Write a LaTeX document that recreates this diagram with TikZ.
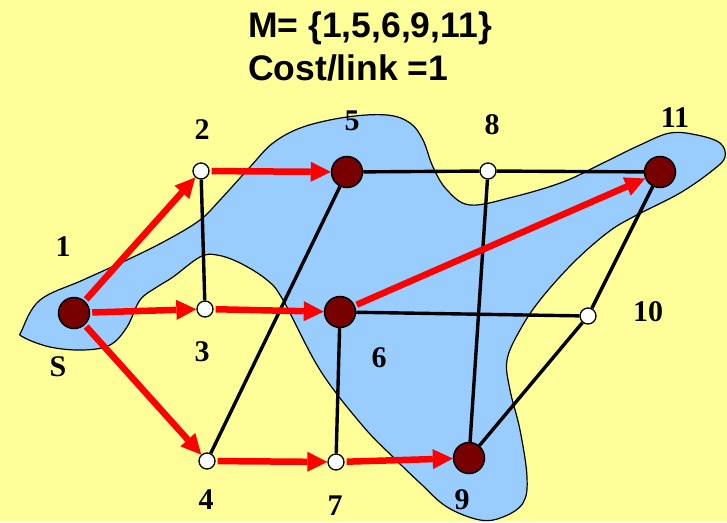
\documentclass[tikz,border=0pt]{standalone}
\usepackage{fontspec}
\setmainfont{Liberation Serif}
\newfontfamily\titlefont{Liberation Sans}
\usetikzlibrary{arrows.meta}

\definecolor{bgyellow}{RGB}{255,255,153}
\definecolor{regionblue}{RGB}{153,204,255}
\definecolor{memberred}{RGB}{119,0,0}

\begin{document}
\begin{tikzpicture}[x=1pt,y=-1pt,>=Latex,
  member/.style={circle,draw,line width=1.5pt,fill=memberred,minimum size=31pt,inner sep=0pt},
  relay/.style={circle,draw,line width=1.3pt,fill=white,minimum size=16pt,inner sep=0pt},
  link/.style={line width=3.4pt},
  tree/.style={red,line width=6.5pt,shorten <=2pt,-{Triangle[length=20pt,width=20pt,line width=0pt]}},
  lbl/.style={font=\fontsize{30}{30}\selectfont\bfseries,inner sep=0pt},
  head/.style={anchor=base west,inner sep=0pt,font=\titlefont\bfseries\fontsize{35.5}{36}\selectfont}]
  \useasboundingbox (0,0) rectangle (727,522);
  \fill[bgyellow] (0,0) rectangle (727,522);
  % Title
  \node[head] (mset) at (248,37) {M= \{1,5,6,9,11\}};
  \node[head] (cost) at (248,80) {Cost/link =1};
  % Multicast region
  \draw[line width=1.2pt,fill=regionblue] plot[smooth cycle,tension=0.6] coordinates {
    (22,330) (40,300) (83,280) (127,260) (167,240) (200,220) (220,200)
    (250,167) (273,143) (303,127) (347,117) (387,115) (410,123) (423,140)
    (433,167) (447,190) (470,205) (513,197) (563,182) (603,163) (640,145)
    (670,133) (697,135) (720,143) (725,157) (713,170) (680,193) (633,217)
    (607,233) (573,263) (540,300) (520,330) (507,360) (510,390) (520,430)
    (527,477) (523,503) (503,517) (480,520) (447,507) (420,483) (393,457)
    (362,425) (320,370) (283,300) (267,280) (240,263) (217,255) (200,257)
    (173,277) (157,287) (140,300) (127,327) (110,345) (83,350) (50,347) (23,337)};
  % Routers
  \node[member] (s) at (74,313) {};
  \node[relay] (n2) at (201,171) {};
  \node[relay] (n3) at (205,309) {};
  \node[relay] (n4) at (207,461) {};
  \node[member] (n5) at (347,172) {};
  \node[member] (n6) at (340,312) {};
  \node[relay] (n7) at (336,462) {};
  \node[relay] (n8) at (488,171) {};
  \node[member] (n9) at (469,458) {};
  \node[relay] (n10) at (588,316) {};
  \node[member] (n11) at (660,172) {};
  % Labels
  \node[lbl] (l1) at (63,247) {1};
  \node[lbl] (ls) at (58,367) {S};
  \node[lbl] (l2) at (202,130) {2};
  \node[lbl] (l3) at (202,352) {3};
  \node[lbl] (l4) at (206,500) {4};
  \node[lbl] (l5) at (352,121) {5};
  \node[lbl] (l6) at (379,358) {6};
  \node[lbl] (l7) at (335,506) {7};
  \node[lbl] (l8) at (492,125) {8};
  \node[lbl] (l9) at (462,500) {9};
  \node[lbl] (l10) at (648,312) {10};
  \node[lbl] (l11) at (675,118) {11};
  % Links
  \draw[link] (n2) -- (n3);
  \draw[link] (n5) -- (n4);
  \draw[link] (n5) -- (n8);
  \draw[link] (n8) -- (n11);
  \draw[link] (n8) -- (n9);
  \draw[link] (n6) -- (n10);
  \draw[link] (n6) -- (n7);
  \draw[link] (n11) -- (n10);
  \draw[link] (n10) -- (n9);
  % Tree
  \draw[tree] (s) -- (n2);
  \draw[tree] (s) -- (n3);
  \draw[tree] (s) -- (n4);
  \draw[tree] (n2) -- (n5);
  \draw[tree] (n3) -- (n6);
  \draw[tree] (n4) -- (n7);
  \draw[tree] (n7) -- (n9);
  \draw[tree] (n6) -- (n11);
\end{tikzpicture}
\end{document}
